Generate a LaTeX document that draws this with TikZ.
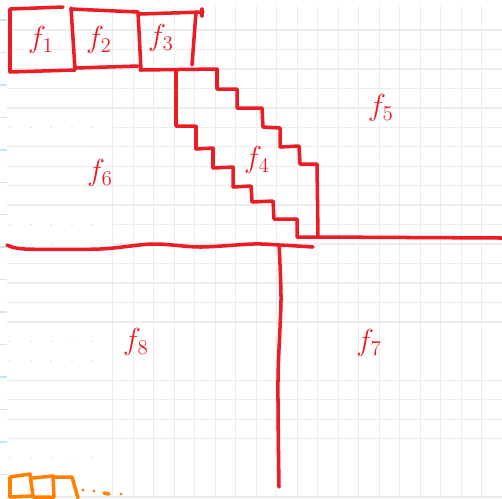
\documentclass[tikz,border=0pt]{standalone}

\definecolor{inkred}{RGB}{236,28,36}
\definecolor{inkorange}{RGB}{255,127,0}
\definecolor{gridgray}{RGB}{236,236,236}
\definecolor{marginblue}{RGB}{200,228,244}

\begin{document}
\begin{tikzpicture}[
    x=0.02cm, y=-0.02cm,
    pen/.style={draw=inkred, line width=2pt, line cap=round, line join=round},
    orangepen/.style={draw=inkorange, line width=2pt, line cap=round, line join=round},
    gridline/.style={draw=gridgray, line width=0.8pt},
    region/.style={text=inkred, font=\LARGE, inner sep=0pt}
]
    \fill[white] (0,0) rectangle (502,498);
    \useasboundingbox (0,0) rectangle (502,498);

    % paper grid
    \foreach \k in {0,...,18}
        \draw[gridline] ({112.7+20.5*\k},6) -- ({112.7+20.5*\k},498);
    \foreach \k in {0,...,15,18,19,20,21,24}
        \draw[gridline] (112.7,{30+19.46*\k}) -- (502,{30+19.46*\k});
    \foreach \k in {0,1,2,3,4,6,7,8,9,12,13,14,15,18,19,20,21,24}
        \draw[gridline] (7,{30+19.46*\k}) -- (112.7,{30+19.46*\k});
    \foreach \k in {5,10,11,16,17,22}
        \foreach \x in {10,31,51,72,92}
            \fill[gridgray!80!black!60] (\x,{30+19.46*\k}) circle (0.8);
    \foreach \k in {0,...,14}
        \draw[marginblue, line width=0.8pt] (0,{20+32.45*\k}) -- (7,{20+32.45*\k});

    % top boxes
    \draw[pen] (63,7) -- (10,9) -- (10,72) -- (75,70);
    \draw[pen] (71,8) -- (75,69);
    \draw[pen] (71,9) -- (138,12) -- (141,70);
    \draw[pen] (76,68) -- (138,66);
    \draw[pen] (140,14) -- (203,12);
    \draw[pen] (202,9) -- (202,16);
    \draw[pen] (196,12) -- (192,65);

    % staircase
    \draw[pen] (140,70) -- (217,69) -- (217,89) -- (237,89) -- (237,108) -- (262,108)
        -- (263,127) -- (280,128) -- (280,147) -- (299,146) -- (300,164) -- (317,164)
        -- (318,237) -- (502,238);
    \draw[pen] (176,70) -- (176,126) -- (196,126) -- (196,149) -- (213,148) -- (213,168)
        -- (233,167) -- (233,187) -- (251,186) -- (252,202) -- (273,201) -- (274,219)
        -- (297,219) -- (297,237) -- (318,237);

    % split lines
    \draw[pen] plot[smooth] coordinates {(7,245) (25,249) (100,249) (153,244) (200,247) (253,244) (280,245) (313,247)};
    \draw[pen] plot[smooth] coordinates {(279,245) (281,300) (278,380) (279,487)};

    % orange boxes
    \draw[orangepen] (10,497) -- (10,477) -- (30,474) -- (33,496) -- cycle;
    \draw[orangepen] (33,478) -- (53,476) -- (54,497) -- (33,497);
    \draw[orangepen] (53,477) -- (72,477) -- (78,498);
    \foreach \x/\y in {83/490, 94/491, 121/494}
        \fill[inkorange] (\x,\y) circle (1.6);
    \draw[orangepen] (104,493) -- (109,494);

    % region labels
    \node[region] (f1) at (41,40) {$f_1$};
    \node[region] (f2) at (99,40) {$f_2$};
    \node[region] (f3) at (161,38) {$f_3$};
    \node[region] (f4) at (257,160) {$f_4$};
    \node[region] (f5) at (381,108) {$f_5$};
    \node[region] (f6) at (100,173) {$f_6$};
    \node[region] (f7) at (369,343) {$f_7$};
    \node[region] (f8) at (136,342) {$f_8$};
\end{tikzpicture}
\end{document}
